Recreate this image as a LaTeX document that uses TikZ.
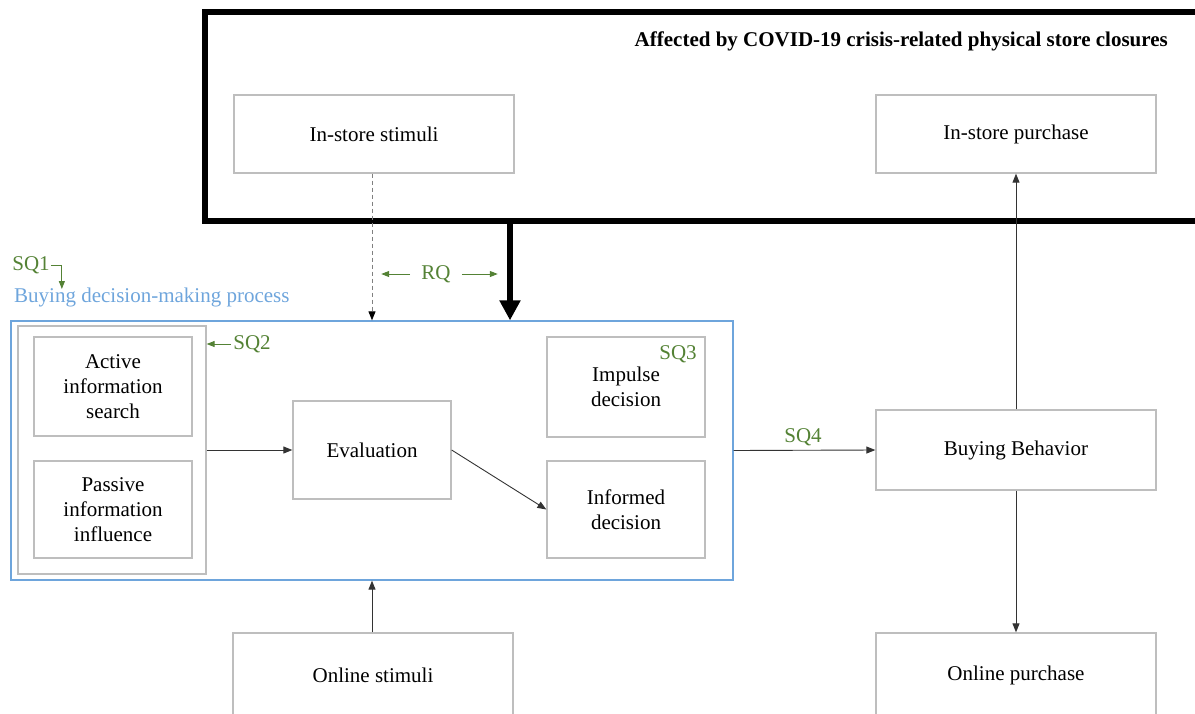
\documentclass[tikz,border=0pt]{standalone}
\usepackage{fontspec}
\setmainfont{Liberation Serif}
\usetikzlibrary{arrows.meta}
\definecolor{boxgray}{RGB}{190,190,190}
\definecolor{qgreen}{RGB}{84,130,53}
\definecolor{pblue}{RGB}{110,165,220}
\tikzset{
  every node/.style={font=\fontsize{21}{25}\selectfont},
  box/.style={draw=boxgray, line width=1.3pt, align=center, inner sep=2pt},
  arr/.style={draw=black!80, line width=0.9pt, -{Triangle[length=9pt,width=7pt]}},
  dasharr/.style={draw=gray, line width=0.9pt, dash pattern=on 4pt off 3pt, -{Triangle[length=9pt,width=7pt,fill=black,color=black]}},
  garr/.style={draw=qgreen, line width=0.9pt, -{Triangle[length=8pt,width=6pt]}},
  qlabel/.style={text=qgreen, inner sep=0pt},
}
\begin{document}
\begin{tikzpicture}[x=1pt,y=-1pt]
\useasboundingbox (0,0) rectangle (1195,713);
\clip (0,0) rectangle (1195,713);

% region of stores closed during the crisis (runs past the right margin)
\node[draw=black, line width=6.5pt, minimum width=998pt, minimum height=209pt, inner sep=0pt] (covid) at (704,116.5) {};
\node[anchor=east, font=\fontsize{21}{25}\selectfont\bfseries, inner sep=0pt] (title) at (1168,41) {Affected by COVID-19 crisis-related physical store closures};

% outer boxes
\node[box, minimum width=280pt, minimum height=78pt] (ist) at (374,134) {In-store stimuli};
\node[box, minimum width=280pt, minimum height=78pt] (isp) at (1016,134) {In-store purchase};
\node[box, minimum width=280pt, minimum height=80pt] (bb) at (1016,450) {Buying Behavior};
\node[box, minimum width=280pt, minimum height=84pt] (ols) at (373,675) {Online stimuli};
\node[box, minimum width=280pt, minimum height=84pt] (olp) at (1016,675) {Online purchase};

% buying decision-making process
\node[draw=pblue, line width=1.3pt, minimum width=722pt, minimum height=259pt, inner sep=0pt] (bdm) at (372,450.5) {};
\node[anchor=west, text=pblue, inner sep=0pt] (bdmlabel) at (14,297) {Buying decision-making process};

\node[box, minimum width=188pt, minimum height=248pt] (grp) at (112,450) {};
\node[box, minimum width=158pt, minimum height=99pt] (act) at (113,386.5) {Active\\information\\search};
\node[box, minimum width=158pt, minimum height=97pt] (pas) at (113,509.5) {Passive\\information\\influence};
\node[box, minimum width=158pt, minimum height=98pt] (eval) at (372,450) {Evaluation};
\node[box, minimum width=158pt, minimum height=100pt] (imp) at (626,387) {Impulse\\decision};
\node[box, minimum width=158pt, minimum height=97pt] (inf) at (626,509.5) {Informed\\decision};

% connectors
\draw[arr] (grp.east) -- (eval.west);
\draw[arr] (eval.east) -- (inf.west);
\draw[arr] (bdm.east) -- (bb.west);
\draw[arr] (bb.north) -- (isp.south);
\draw[arr] (bb.south) -- (olp.north);
\draw[arr] ([xshift=-1pt]ols.north) -- ([xshift=-1pt]ols.north |- bdm.south);
\draw[dasharr] ([xshift=-2pt]ist.south) -- ([xshift=-2pt]ist.south |- bdm.north);
\coordinate (thickx) at (510,0);
\draw[line width=6pt, -{Triangle[length=20pt,width=20pt]}] (covid.south -| thickx) -- (bdm.north -| thickx);

% research question labels
\node[qlabel] (rq) at (436,274) {RQ};
\draw[garr] ([xshift=-11pt]rq.west) -- ([xshift=-40pt]rq.west);
\draw[garr] ([xshift=11pt]rq.east) -- ([xshift=47pt]rq.east);

\node[qlabel] (sq1) at (31,265) {SQ1};
\draw[garr] ([xshift=1pt]sq1.east) -- ++(11,0) -- ++(0,24);

\node[qlabel] (sq2) at (252,344) {SQ2};
\draw[garr] ([xshift=-2pt]sq2.west) -- (grp.east |- sq2.west);

\node[qlabel] (sq3) at (678,354) {SQ3};
\node[qlabel] (sq4) at (803,437) {SQ4};
\end{tikzpicture}
\end{document}
